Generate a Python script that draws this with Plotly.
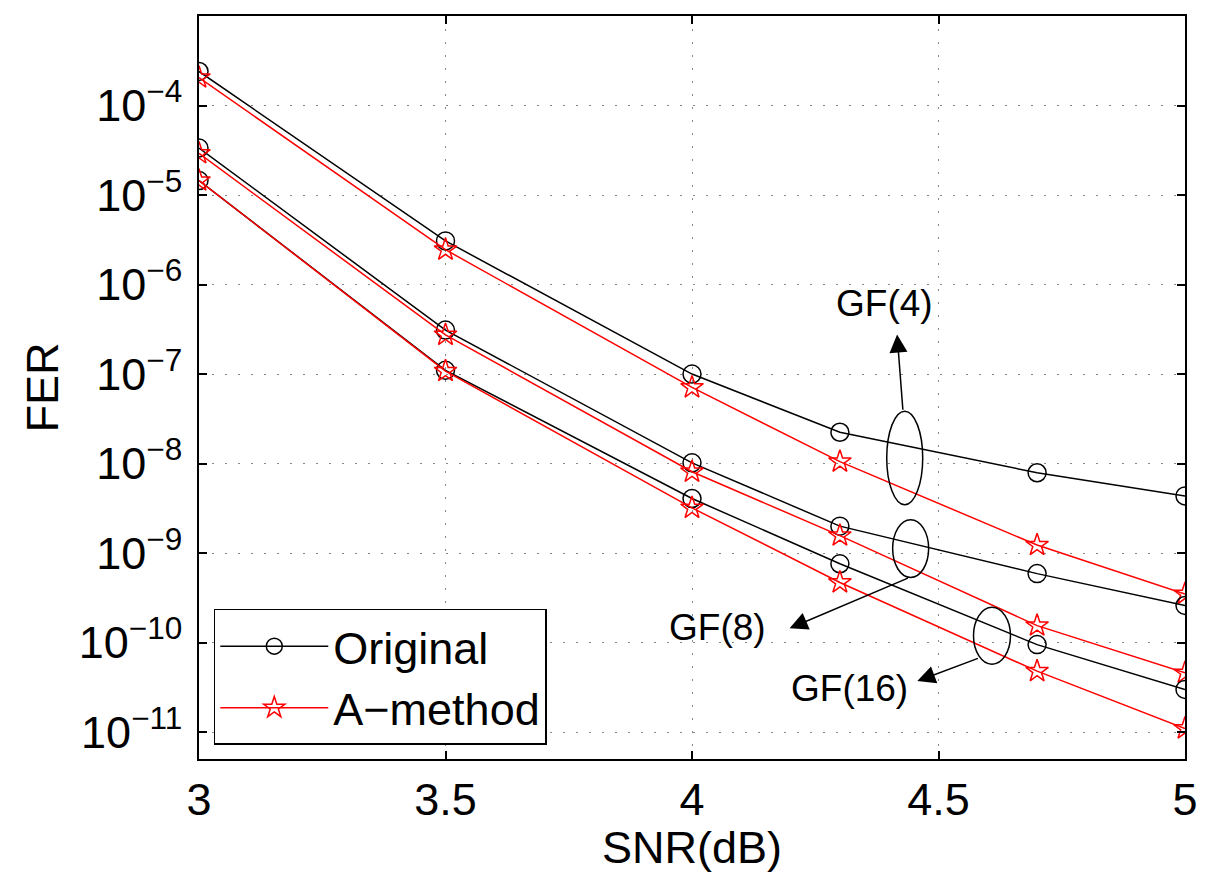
import plotly.graph_objects as go

snr = [3, 3.5, 4, 4.3, 4.7, 5]

gf4_original = [2.4e-4, 3.07e-6, 1.0e-7, 2.24e-8, 7.9e-9, 4.35e-9]
gf4_amethod = [2.05e-4, 2.45e-6, 7.1e-8, 1.05e-8, 1.23e-9, 3.5e-10]
gf8_original = [3.35e-5, 3.1e-7, 1.02e-8, 2.0e-9, 5.9e-10, 2.6e-10]
gf8_amethod = [2.92e-5, 2.74e-7, 8.1e-9, 1.57e-9, 1.55e-10, 4.6e-11]
gf16_original = [1.45e-5, 1.1e-7, 4.07e-9, 7.6e-10, 9.5e-11, 3.0e-11]
gf16_amethod = [1.45e-5, 1.08e-7, 3.2e-9, 4.7e-10, 4.8e-11, 1.1e-11]

y_exponents = [-4, -5, -6, -7, -8, -9, -10, -11]
x_ticks = [3, 3.5, 4, 4.5, 5]
x_ticklabels = ["3", "3.5", "4", "4.5", "5"]

labels = ["GF(4)", "GF(8)", "GF(16)"]
# ellipse bounds (x0, x1, y_top, y_bottom)
ellipses = [
    (4.395, 4.468, 3.85e-8, 3.47e-9),
    (4.407, 4.480, 2.36e-9, 5.35e-10),
    (4.571, 4.646, 2.48e-10, 5.75e-11),
]
# arrow: tail (x, log y), head (x, log y), text (x, log y)
arrows = [
    ((4.428, -7.415), (4.416, -6.558), (4.391, -6.213)),
    ((4.441, -9.272), (4.198, -9.84), (4.052, -9.83)),
    ((4.583, -10.17), (4.457, -10.43), (4.32, -10.51)),
]

FONT = "Liberation Sans, Arial, Helvetica, sans-serif"

fig = go.Figure()

black_style = dict(color="black", width=1.5)
red_style = dict(color="red", width=1.5)
circ = dict(symbol="circle-open", size=18, color="black", line=dict(width=1.5, color="black"))
star = dict(symbol="star-open", size=17, color="red", line=dict(width=1.5, color="red"))

pairs = [(gf4_original, gf4_amethod), (gf8_original, gf8_amethod), (gf16_original, gf16_amethod)]
for i, (orig, am) in enumerate(pairs):
    fig.add_trace(go.Scatter(x=snr, y=orig, mode="lines+markers", line=black_style, marker=circ,
                             name="Original", legendgroup="o", showlegend=(i == 0)))
    fig.add_trace(go.Scatter(x=snr, y=am, mode="lines+markers", line=red_style, marker=star,
                             name="A\u2212method", legendgroup="a", showlegend=(i == 0)))

for (x0, x1, yt, yb) in ellipses:
    fig.add_shape(type="circle", xref="x", yref="y", x0=x0, x1=x1, y0=yb, y1=yt,
                  line=dict(color="black", width=1.5))

for lab, (tail, head, txt) in zip(labels, arrows):
    fig.add_annotation(x=head[0], y=head[1], ax=tail[0], ay=tail[1], axref="x", ayref="y",
                       xref="x", yref="y", text="", showarrow=True, arrowhead=2, arrowsize=2.4,
                       arrowwidth=1.5, arrowcolor="black")
    fig.add_annotation(x=txt[0], y=txt[1], xref="x", yref="y", text=lab, showarrow=False,
                       font=dict(family=FONT, size=37, color="black"))

fig.update_layout(
    width=1219, height=865,
    margin=dict(l=191, r=42, t=6, b=114),
    paper_bgcolor="white", plot_bgcolor="white",
    font=dict(family=FONT, size=45, color="black"),
    legend=dict(x=0.015, y=0.019, xanchor="left", yanchor="bottom",
                bgcolor="white", bordercolor="black", borderwidth=1.5,
                font=dict(family=FONT, size=45, color="black"),
                tracegroupgap=0, itemwidth=108),
    showlegend=True,
)

grid_dash = "2px,11px"
fig.update_xaxes(
    range=[3, 5], tickvals=x_ticks, ticktext=x_ticklabels,
    showline=True, linecolor="black", linewidth=1.5, mirror="ticks",
    ticks="inside", ticklen=8, tickcolor="black", tickwidth=1.5,
    showgrid=True, gridcolor="#888888", griddash=grid_dash, gridwidth=1,
    zeroline=False,
    title=dict(text="SNR(dB)", font=dict(family=FONT, size=45), standoff=0),
    tickfont=dict(family=FONT, size=45),
)
fig.update_yaxes(
    type="log", range=[-11.3, -3.0],
    tickvals=[10.0 ** e for e in y_exponents],
    ticktext=["10<sup>\u2212%d</sup>" % (-e) for e in y_exponents],
    showline=True, linecolor="black", linewidth=1.5, mirror="ticks",
    ticks="inside", ticklen=8, tickcolor="black", tickwidth=1.5,
    showgrid=True, gridcolor="#888888", griddash=grid_dash, gridwidth=1,
    zeroline=False, ticklabelstandoff=6,
    title=dict(text="FER", font=dict(family=FONT, size=45), standoff=6),
    tickfont=dict(family=FONT, size=45),
)

fig.write_html("out.html")
